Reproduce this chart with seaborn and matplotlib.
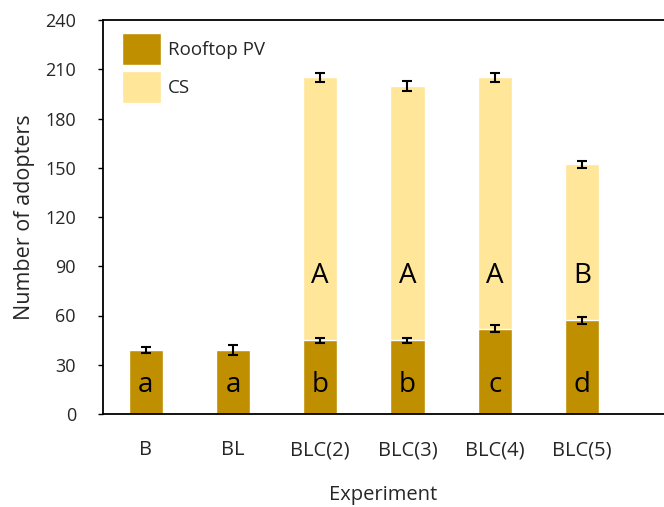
import matplotlib
matplotlib.use("Agg")
import matplotlib.pyplot as plt
import seaborn as sns
import pandas as pd

# Adoption counts per experiment
experiments = ["B", "BL", "BLC(2)", "BLC(3)", "BLC(4)", "BLC(5)"]
rooftop_pv = [39, 39, 45, 45, 52, 57]
cs = [0, 0, 160, 155, 153, 95]
rooftop_err = [2, 3, 1.5, 1.5, 2, 2]
total_err = [0, 0, 3, 3, 2.5, 2]
rooftop_letters = ["a", "a", "b", "b", "c", "d"]
cs_letters = ["", "", "A", "A", "A", "B"]

totals = [r + c for r, c in zip(rooftop_pv, cs)]
df = pd.DataFrame({"Experiment": experiments, "Rooftop PV": rooftop_pv,
                   "CS": cs, "Total": totals})

sns.set_theme(style="white")
plt.rcParams["font.family"] = ["Open Sans", "DejaVu Sans"]

PV_COLOR = "#BF8F00"
CS_COLOR = "#FFE699"

fig = plt.figure(figsize=(6.64, 5.07), dpi=100)
ax = fig.add_axes([103 / 664, 93 / 507, 561 / 664, 394 / 507])

width = 0.39
sns.barplot(data=df, x="Experiment", y="Total", color=CS_COLOR, width=width,
            saturation=1, ax=ax, label="CS", errorbar=None)
sns.barplot(data=df, x="Experiment", y="Rooftop PV", color=PV_COLOR, width=width,
            saturation=1, ax=ax, label="Rooftop PV", errorbar=None)

xs = list(range(len(experiments)))
ax.errorbar(xs, rooftop_pv, yerr=rooftop_err, fmt="none", ecolor="black",
            elinewidth=1.5, capsize=3.5, capthick=1.5, zorder=5)
cs_idx = [i for i, c in enumerate(cs) if c > 0]
ax.errorbar([xs[i] for i in cs_idx], [totals[i] for i in cs_idx],
            yerr=[total_err[i] for i in cs_idx], fmt="none", ecolor="black",
            elinewidth=1.5, capsize=3.5, capthick=1.5, zorder=5)

# Significance letters inside the bar segments
for i in xs:
    ax.text(i, 13.4, rooftop_letters[i], ha="center", va="baseline",
            fontsize=20, color="black")
    if cs_letters[i]:
        ax.text(i, 80.1, cs_letters[i], ha="center", va="baseline",
                fontsize=20, color="black")

ax.set_xlim(-0.49, 5.94)
ax.set_ylim(0, 240)
ax.set_yticks(range(0, 241, 30))
ax.set_ylabel("Number of adopters", fontsize=15.5, labelpad=7)
ax.set_xlabel("Experiment", fontsize=14.5, labelpad=18)
ax.tick_params(axis="y", which="major", direction="out", length=3.5, width=1,
               labelsize=13, pad=16, left=True, color="black")
ax.tick_params(axis="x", length=0, labelsize=14.5, pad=19)

for side in ["left", "bottom", "top"]:
    ax.spines[side].set_visible(True)
    ax.spines[side].set_color("black")
    ax.spines[side].set_linewidth(1.3)
ax.spines["right"].set_visible(False)

handles, labels = ax.get_legend_handles_labels()
order = [labels.index("Rooftop PV"), labels.index("CS")]
ax.legend([handles[i] for i in order], [labels[i] for i in order],
          loc="upper left", bbox_to_anchor=(0.01, 1.0), frameon=False,
          fontsize=13.5, handlelength=2.1, handleheight=2.2, labelspacing=0.35,
          handletextpad=0.35, borderaxespad=0.3)

fig.savefig("out.png", dpi=100)
